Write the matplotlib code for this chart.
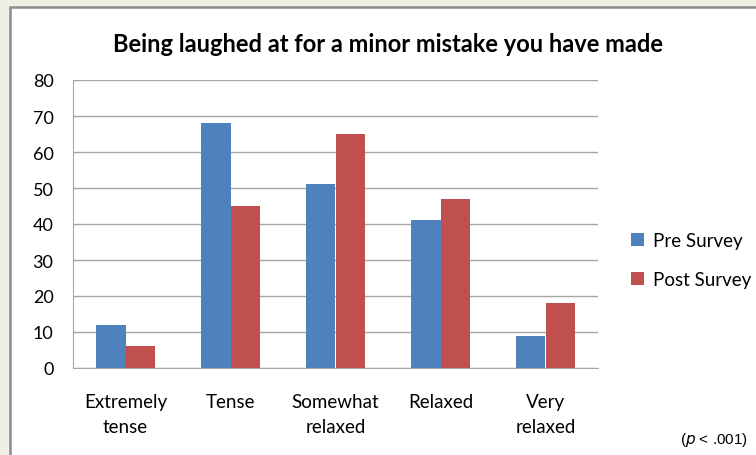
import matplotlib
matplotlib.use("Agg")
import matplotlib.pyplot as plt
import numpy as np
from matplotlib.patches import Rectangle

categories = ["Extremely\ntense", "Tense", "Somewhat\nrelaxed", "Relaxed", "Very\nrelaxed"]
pre_survey = [12, 68, 51, 41, 9]
post_survey = [6, 45, 65, 47, 18]
yticks = [0, 10, 20, 30, 40, 50, 60, 70, 80]

blue = "#4F81BD"
red = "#C0504D"
grid_col = "#A6A6A6"

plt.rcParams['font.family'] = ['Lato', 'DejaVu Sans']

fig = plt.figure(figsize=(7.56, 4.56), dpi=100)
fig.patch.set_facecolor("#eef0e6")

# white chart box with grey border
box = Rectangle((10/756, -0.05), 1.0, 1 - 8/456 + 0.05, transform=fig.transFigure,
                facecolor="white", edgecolor="#8c8c8c", linewidth=1.8, zorder=-1)
fig.patches.append(box)

ax = fig.add_axes([73/756, 1 - 369/456, (598 - 73)/756, (369 - 81)/456])
ax.set_facecolor("white")

x = np.arange(len(categories))
w = 0.28
ax.bar(x - w/2, pre_survey, w, color=blue, label="Pre Survey", zorder=3)
ax.bar(x + w/2, post_survey, w, color=red, label="Post Survey", zorder=3)

ax.set_xlim(-0.5, len(categories) - 0.5)
ax.set_ylim(0, 80)
ax.set_yticks(yticks)
ax.yaxis.grid(True, color=grid_col, linewidth=1, zorder=0)
ax.set_axisbelow(True)
for s in ["top", "right"]:
    ax.spines[s].set_visible(False)
ax.spines["left"].set_color(grid_col)
ax.spines["bottom"].set_color(grid_col)
ax.tick_params(axis="both", length=0, labelsize=13, colors="black")
ax.tick_params(axis="y", pad=14)
ax.set_xticks(x)
ax.set_xticklabels(categories, linespacing=1.6, fontsize=13.5)
ax.tick_params(axis="x", pad=18)

fig.text(388/756, 1 - 45/456, "Being laughed at for a minor mistake you have made",
         ha="center", va="center", fontsize=17, fontweight="bold")

leg = ax.legend(loc="center left", bbox_to_anchor=(1.03, 0.375), frameon=False,
                fontsize=13.5, handlelength=0.7, handleheight=0.7, labelspacing=1.2,
                handletextpad=0.5)

fig.text(748/756, 1 - 440/456, r"($\it{p}$ < .001)", ha="right", va="center",
         fontsize=11, family=["Liberation Sans", "DejaVu Sans"])

fig.savefig("out.png", dpi=100)
